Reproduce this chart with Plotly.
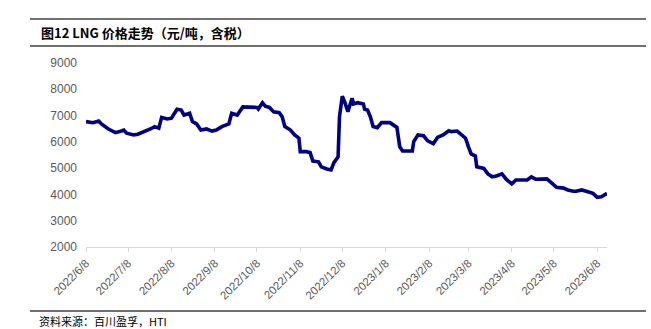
import plotly.graph_objects as go

# LNG price series (yuan/ton, tax included)
dates = [
    "2022-06-08", "2022-06-13", "2022-06-17", "2022-06-19", "2022-06-24", "2022-06-29",
    "2022-07-02", "2022-07-05", "2022-07-07", "2022-07-12", "2022-07-15", "2022-07-20",
    "2022-07-24", "2022-07-27", "2022-07-30", "2022-08-01", "2022-08-05", "2022-08-08",
    "2022-08-12", "2022-08-15", "2022-08-17", "2022-08-21", "2022-08-23", "2022-08-26",
    "2022-08-29", "2022-09-02", "2022-09-06", "2022-09-09", "2022-09-13", "2022-09-18",
    "2022-09-20", "2022-09-24", "2022-09-28", "2022-10-08", "2022-10-09", "2022-10-12",
    "2022-10-14", "2022-10-17", "2022-10-20", "2022-10-24", "2022-10-26", "2022-10-28",
    "2022-11-01", "2022-11-04", "2022-11-07", "2022-11-08", "2022-11-12", "2022-11-15",
    "2022-11-17", "2022-11-21", "2022-11-23", "2022-11-27", "2022-11-30", "2022-12-02",
    "2022-12-04", "2022-12-05", "2022-12-06", "2022-12-08", "2022-12-10", "2022-12-12",
    "2022-12-15", "2022-12-16", "2022-12-19", "2022-12-23", "2022-12-24", "2022-12-26",
    "2022-12-28", "2022-12-30", "2023-01-02", "2023-01-05", "2023-01-11", "2023-01-15",
    "2023-01-16", "2023-01-18", "2023-01-20", "2023-01-27", "2023-01-28", "2023-01-31",
    "2023-02-04", "2023-02-07", "2023-02-11", "2023-02-14", "2023-02-18", "2023-02-22",
    "2023-02-24", "2023-02-28", "2023-03-03", "2023-03-06", "2023-03-08", "2023-03-10",
    "2023-03-13", "2023-03-14", "2023-03-19", "2023-03-22", "2023-03-25", "2023-03-28",
    "2023-04-01", "2023-04-04", "2023-04-08", "2023-04-11", "2023-04-19", "2023-04-22",
    "2023-04-25", "2023-05-03", "2023-05-06", "2023-05-10", "2023-05-15", "2023-05-18",
    "2023-05-22", "2023-05-24", "2023-05-28", "2023-06-02", "2023-06-05", "2023-06-08",
    "2023-06-11", "2023-06-15",
]
prices = [
    6770, 6730, 6790, 6680, 6490, 6350,
    6390, 6450, 6330, 6260, 6290, 6390,
    6490, 6580, 6520, 6930, 6870, 6900,
    7240, 7210, 7020, 7090, 6770, 6680,
    6450, 6490, 6410, 6450, 6580, 6680,
    7090, 7020, 7330, 7310, 7250, 7490,
    7360, 7310, 7140, 7110, 6960, 6580,
    6450, 6260, 6140, 5630, 5630, 5590,
    5270, 5240, 5050, 4970, 4930, 5210,
    5370, 5430, 6960, 7740, 7470, 7150,
    7660, 7440, 7490, 7440, 7240, 7210,
    6960, 6580, 6540, 6730, 6730, 6600,
    6550, 5820, 5650, 5650, 6010, 6260,
    6230, 6040, 5930, 6170, 6260, 6420,
    6390, 6410, 6260, 6140, 5820, 5540,
    5460, 5050, 4990, 4780, 4670, 4700,
    4780, 4580, 4400, 4550, 4550, 4670,
    4580, 4590, 4460, 4270, 4240, 4170,
    4120, 4120, 4170, 4070, 4040, 3890,
    3910, 4040,
]

tick_dates = [
    "2022-06-08", "2022-07-08", "2022-08-08", "2022-09-08", "2022-10-08",
    "2022-11-08", "2022-12-08", "2023-01-08", "2023-02-08", "2023-03-08",
    "2023-04-08", "2023-05-08", "2023-06-08",
]
tick_labels = [
    "2022/6/8", "2022/7/8", "2022/8/8", "2022/9/8", "2022/10/8",
    "2022/11/8", "2022/12/8", "2023/1/8", "2023/2/8", "2023/3/8",
    "2023/4/8", "2023/5/8", "2023/6/8",
]
y_ticks = [2000, 3000, 4000, 5000, 6000, 7000, 8000, 9000]

title_text = "图12 LNG 价格走势（元/吨，含税）"
source_text = "资料来源：百川盈孚，HTI"

W, H = 651, 329
L, R, T, B = 86, 607, 63, 247  # plot area in pixels


def px(x):
    return (x - L) / (R - L)


def py(y):
    return (B - y) / (B - T)


fig = go.Figure()
fig.add_trace(go.Scatter(
    x=dates, y=prices, mode="lines",
    line=dict(color="#000080", width=3.6),
    hoverinfo="skip",
))

fig.update_layout(
    width=W, height=H,
    margin=dict(l=L, r=W - R, t=T, b=H - B),
    paper_bgcolor="white", plot_bgcolor="white",
    showlegend=False,
    font=dict(family="Liberation Sans, Arial, sans-serif", color="#595959", size=12),
)

fig.update_xaxes(
    type="date",
    range=["2022-06-08", "2023-06-15"],
    tickmode="array", tickvals=tick_dates, ticktext=tick_labels,
    tickangle=-45,
    ticks="outside", ticklen=4, tickcolor="#d9d9d9", tickwidth=1,
    showline=True, linecolor="#d9d9d9", linewidth=1,
    showgrid=False, zeroline=False,
    tickfont=dict(size=11.5, color="#595959"),
)
fig.update_yaxes(
    range=[2000, 9000],
    tickmode="array", tickvals=y_ticks,
    ticks="", showline=False, showgrid=False, zeroline=False,
    ticklabelstandoff=8,
    tickfont=dict(size=12, color="#595959"),
)

rule = dict(color="#404040", width=1.5)
for yy in (19, 46, 311):
    fig.add_shape(type="line", xref="paper", yref="paper",
                  x0=px(30), x1=px(646), y0=py(yy), y1=py(yy), line=rule)

fig.add_annotation(
    text="<b>" + title_text + "</b>", xref="paper", yref="paper",
    x=px(39), y=py(32), xanchor="left", yanchor="middle", showarrow=False,
    font=dict(family="Noto Sans CJK SC", size=13, color="#000000"),
)
fig.add_annotation(
    text=source_text, xref="paper", yref="paper",
    x=px(37), y=py(321), xanchor="left", yanchor="middle", showarrow=False,
    font=dict(family="Noto Sans CJK SC", size=11, color="#000000"),
)

fig.write_html("out.html")
